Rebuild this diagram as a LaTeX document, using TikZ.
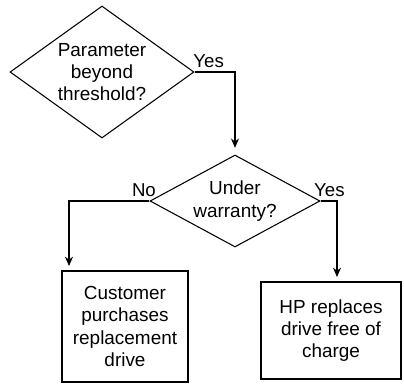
\documentclass[tikz,border=0pt]{standalone}
\usepackage{fontspec}
\setmainfont{Liberation Sans}
\usetikzlibrary{shapes.geometric,arrows.meta}

\begin{document}
\begin{tikzpicture}[x=0.75pt,y=-0.75pt,
  txt/.style={align=center,font=\fontsize{14.2}{16.8}\selectfont},
  decide/.style={txt,draw,diamond,inner sep=0pt,line width=0.8pt},
  outcome/.style={txt,draw,rectangle,inner sep=0pt,line width=0.8pt},
  lbl/.style={font=\fontsize{14}{16}\selectfont,inner sep=0pt},
  flow/.style={line width=0.8pt,-{Stealth[length=7pt,width=6pt]}}]
  \useasboundingbox (0,0) rectangle (404,383);
  \node[decide,aspect=1.39,minimum width=138pt,minimum height=99pt] (thr) at (102,72) {Parameter\\beyond\\threshold?};
  \node[decide,aspect=1.85,minimum width=127.5pt,minimum height=69pt] (warr) at (235,201) {Under\\warranty?};
  \node[outcome,minimum width=94.5pt,minimum height=83.25pt] (cust) at (125,326.5) {Customer\\purchases\\replacement\\drive};
  \node[outcome,minimum width=105pt,minimum height=72.75pt] (hp) at (331,330.5) {HP replaces\\drive free of\\charge};
  \coordinate (noin) at (69,266);
  \coordinate (yesin) at (337,277);
  \draw[flow,shorten >=5pt] (thr.east) -| (warr.north);
  \draw[flow] (warr.west) -| (noin);
  \draw[flow] (warr.east) -| (yesin);
  \node[lbl,anchor=south west] (y1) at ([xshift=-1pt,yshift=3pt]thr.east) {Yes};
  \node[lbl,anchor=south east] (n2) at ([xshift=5pt,yshift=3pt]warr.west) {No};
  \node[lbl,anchor=south west] (y2) at ([xshift=-5pt,yshift=3pt]warr.east) {Yes};
\end{tikzpicture}
\end{document}
